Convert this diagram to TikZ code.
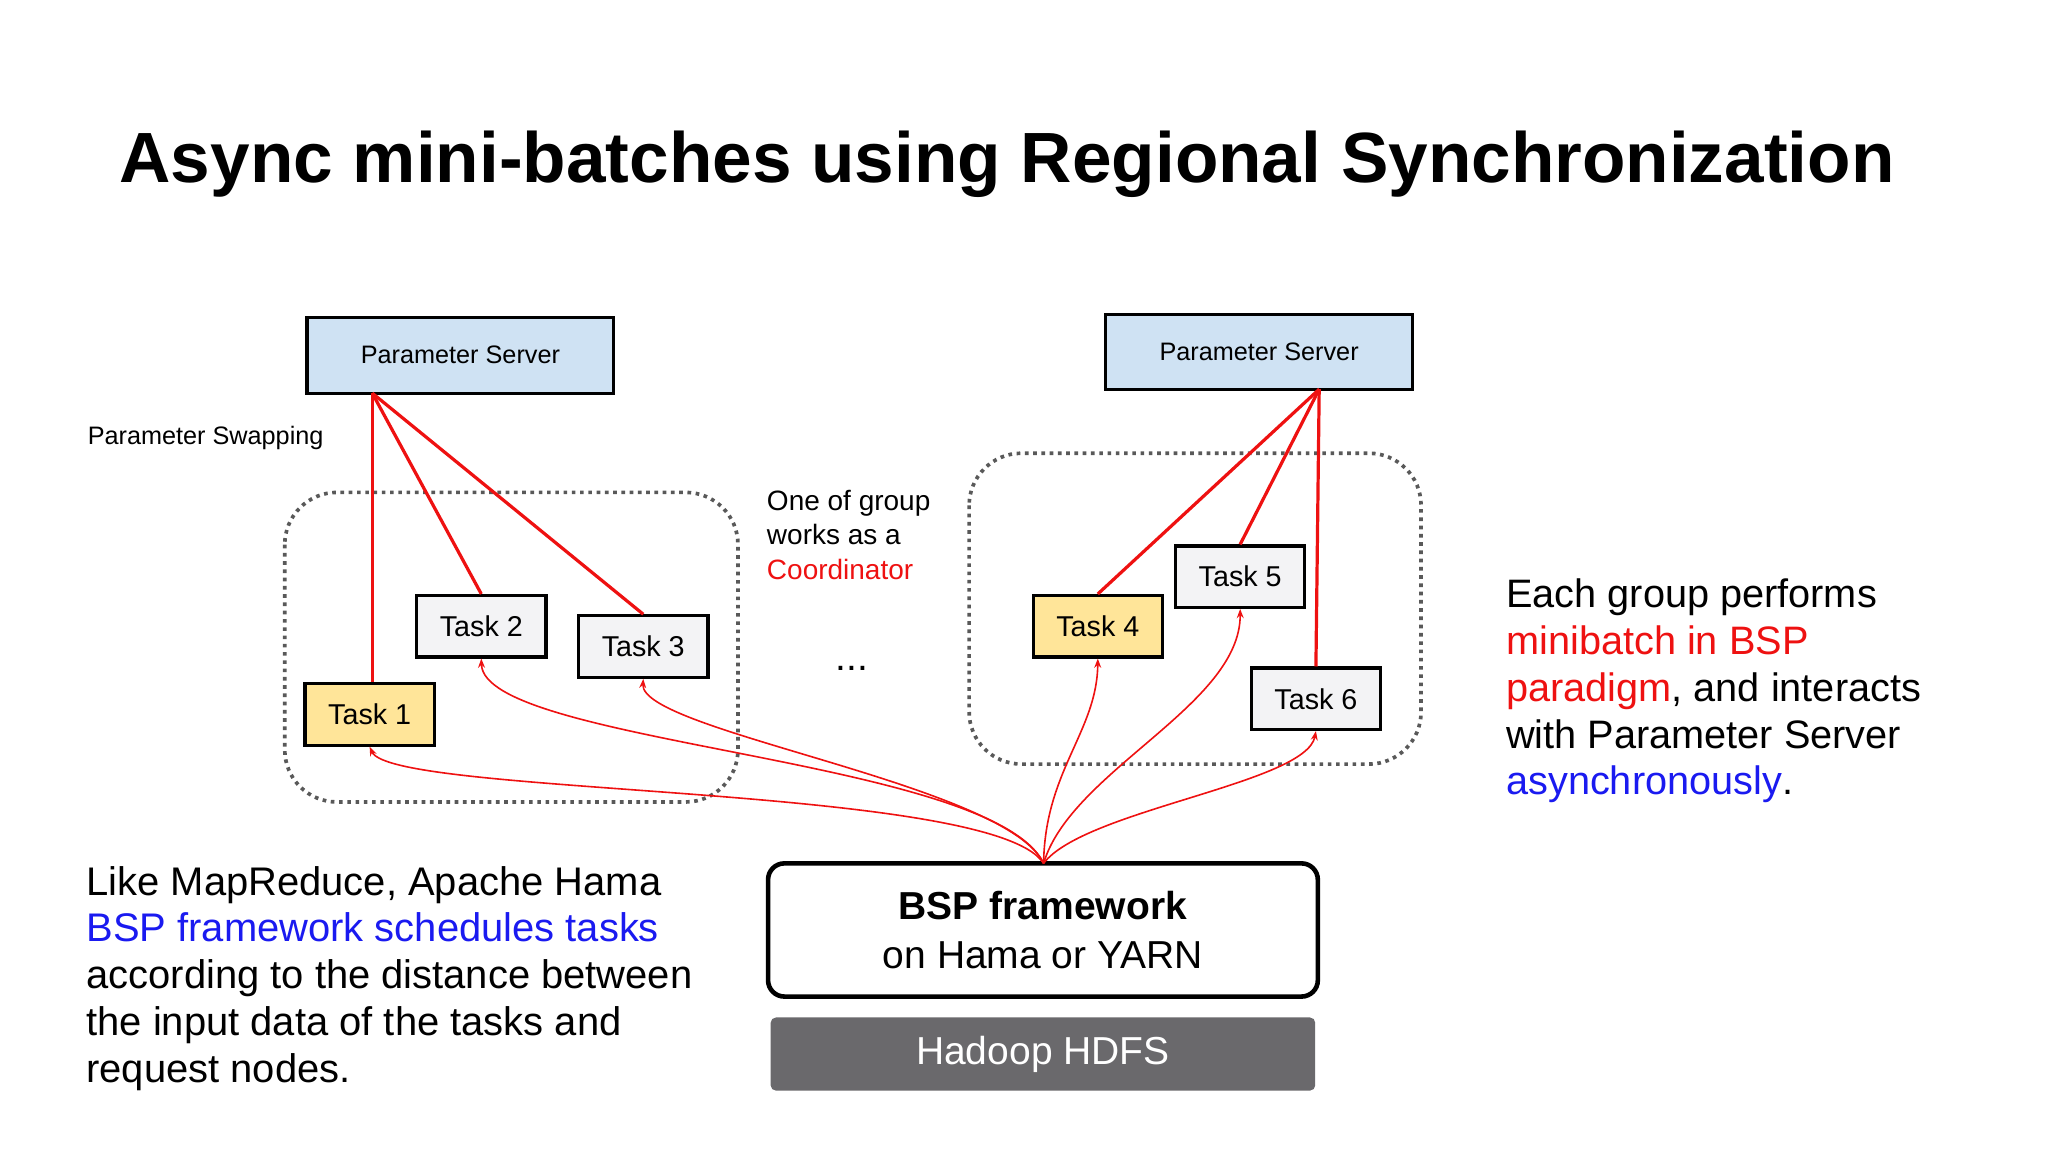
\documentclass[tikz,border=0pt]{standalone}
\usepackage{fontspec}
\setmainfont{Liberation Sans}
\usetikzlibrary{positioning,arrows.meta}
\definecolor{psblue}{HTML}{CFE2F3}
\definecolor{taskgray}{HTML}{F3F3F5}
\definecolor{taskyel}{HTML}{FFE599}
\definecolor{hdfs}{HTML}{6A696C}
\definecolor{myblue}{HTML}{1A1AF0}
\definecolor{myred}{HTML}{EE1111}
\tikzset{
  server/.style={draw, line width=1.4pt, fill=psblue, minimum width=4.7cm, minimum height=1.16cm, font=\fontsize{11}{13}\selectfont},
  task/.style={draw, line width=1.4pt, fill=taskgray, minimum width=1.98cm, minimum height=0.94cm, font=\fontsize{12.5}{14}\selectfont},
  group/.style={draw, dotted, line width=1.6pt, gray!70!black, rounded corners=0.8cm},
  link/.style={myred, line width=1.4pt},
  sched/.style={myred, line width=0.7pt, -{Stealth[length=4pt,width=3pt]}},
}
\begin{document}
\begin{tikzpicture}[x=0.02cm, y=-0.02cm]
  \useasboundingbox (0,0) rectangle (1568,882);

  % Title
  \node[font=\fontsize{31}{36}\selectfont\bfseries] (title) at (771,126) {Async mini-batches using Regional Synchronization};

  % Groups
  \draw[group] (218,377) rectangle (565,614);
  \draw[group] (742,347) rectangle (1088,585);

  % Servers and tasks
  \node[server] (ps1) at (352.5,272) {Parameter Server};
  \node[server] (ps2) at (964,269.5) {Parameter Server};
  \node[task, fill=taskyel] (t1) at (283,547) {Task 1};
  \node[task] (t2) at (368.5,479.5) {Task 2};
  \node[task] (t3) at (492.5,495) {Task 3};
  \node[task, fill=taskyel] (t4) at (840.5,479.5) {Task 4};
  \node[task] (t5) at (949.5,441.5) {Task 5};
  \node[task] (t6) at (1007.5,535) {Task 6};

  \node[draw, line width=2pt, rounded corners=0.25cm, minimum width=8.42cm, minimum height=2.04cm, align=center, font=\fontsize{17}{21}\selectfont] (bsp) at (798.5,712) {\textbf{BSP framework}\\on Hama or YARN};
  \node[fill=hdfs, rounded corners=0.08cm, minimum width=8.34cm, minimum height=1.12cm, text=white, font=\fontsize{17}{20}\selectfont] (hdfs) at (798.5,807) {Hadoop HDFS};

  % Parameter links
  \coordinate (s1) at (285,301);
  \coordinate (s2) at (1010,298);
  \draw[link] (s1) -- (t1.north -| s1);
  \draw[link] (s1) -- (t2.north);
  \draw[link] (s1) -- (t3.north);
  \draw[link] (s2) -- (t4.north);
  \draw[link] (s2) -- (t5.north);
  \draw[link] (s2) -- (t6.north);

  % Scheduling
  \coordinate (b) at (799,661);
  \draw[sched] (b) .. controls (760,600) and (300,610) .. (t1.south);
  \draw[sched] (b) .. controls (760,580) and (370,570) .. (t2.south);
  \draw[sched] (b) .. controls (770,600) and (490,560) .. (t3.south);
  \draw[sched] (b) .. controls (800,590) and (840,560) .. (t4.south);
  \draw[sched] (b) .. controls (820,590) and (950,540) .. (t5.south);
  \draw[sched] (b) .. controls (830,620) and (1000,600) .. (t6.south);

  % Texts
  \node[anchor=west, font=\fontsize{11}{13}\selectfont] (swap) at (61,335) {Parameter Swapping};
  \node[anchor=north west, align=left, font=\fontsize{12.2}{15}\selectfont] (coord) at (581,369) {One of group\\works as a\\\textcolor{myred}{Coordinator}};
  \node[font=\fontsize{17}{20}\selectfont] (dots) at (652,512) {...};
  \node[anchor=north west, align=left, font=\fontsize{17.3}{20.4}\selectfont] (right) at (1147,437) {Each group performs\\\textcolor{myred}{minibatch in BSP}\\\textcolor{myred}{paradigm}, and interacts\\with Parameter Server\\\textcolor{myblue}{asynchronously}.};
  \node[anchor=north west, align=left, font=\fontsize{17.4}{20.4}\selectfont] (left) at (60,657) {Like MapReduce, Apache Hama\\\textcolor{myblue}{BSP framework schedules tasks}\\according to the distance between\\the input data of the tasks and\\request nodes.};
\end{tikzpicture}
\end{document}
